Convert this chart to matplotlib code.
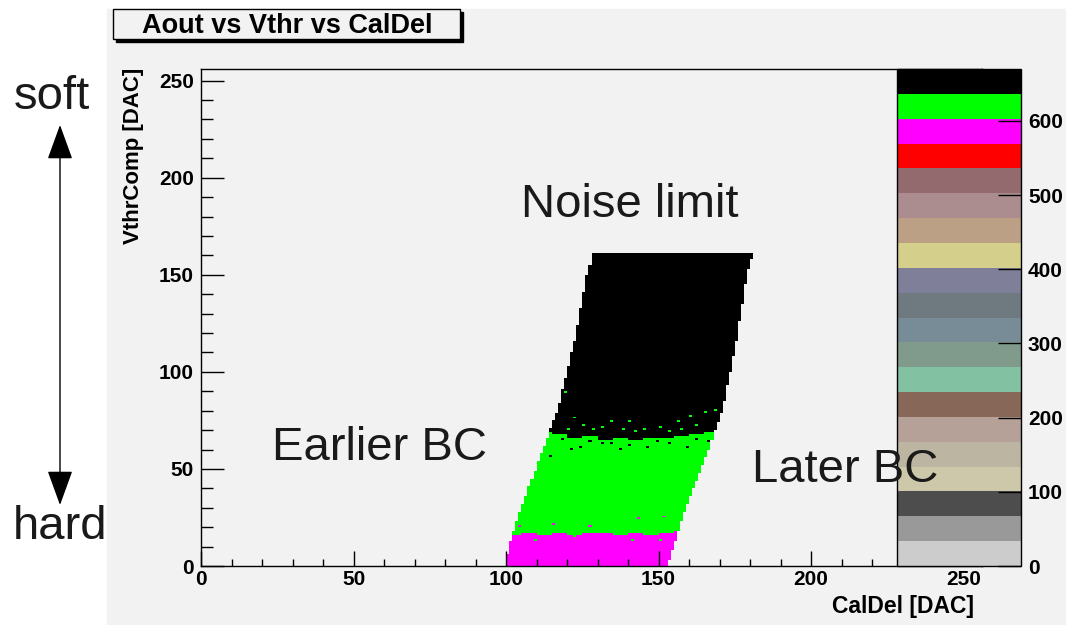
import numpy as np
import matplotlib.pyplot as plt
from matplotlib.colors import ListedColormap, BoundaryNorm
from matplotlib.patches import Rectangle, FancyArrowPatch
from matplotlib.path import Path
from matplotlib.ticker import MultipleLocator

plt.rcParams['font.family'] = ['Liberation Sans', 'DejaVu Sans']
plt.rcParams['font.weight'] = 'bold'

# ROOT palette, bottom to top (20 contour levels)
palette = ['#cccccc', '#999999', '#4d4d4d', '#cdc8aa', '#bcb5a2', '#b5a198',
           '#876757', '#83c1a3', '#809b8b', '#778c96', '#6f7a80', '#7f7f9a',
           '#d4cf8a', '#bca086', '#ab8c8f', '#936b6e', '#ff0000', '#ff00ff',
           '#00ff00', '#000000']
z_max = 670
palette_ticks = [0, 100, 200, 300, 400, 500, 600]

# outline of the filled region (CalDel edges at a few VthrComp levels)
vthr_levels = [0, 13, 30, 58, 81, 116, 150, 161]
left_edge = [99.5, 101.5, 105, 111.5, 117, 122.5, 126.5, 128.5]
right_edge = [153, 155.5, 159, 166, 171, 175.5, 179, 181]

# band borders per 5-DAC CalDel slice
band_cols = [95, 100, 105, 110, 115, 120, 125, 130, 135, 140, 145, 150, 155,
             160, 165, 170, 175, 180]
magenta_top = [16, 16, 17, 16, 17, 16, 17, 17, 16, 17, 16, 17, 18, 18, 18,
               18, 18, 18]
green_top = [68, 68, 68, 69, 68, 66, 67, 65, 66, 65, 66, 66, 67, 68, 69, 69,
             69, 69]

# level of each band
val_magenta = 585
val_green = 620
val_black = 655

# stray bins near the borders (CalDel, VthrComp)
green_specks = [(119, 89), (116, 79), (122, 76), (125, 72), (134, 74),
                (140, 74), (156, 74), (160, 77), (168, 80), (165, 79),
                (150, 71), (153, 69), (145, 70), (138, 70), (162, 72),
                (128, 70), (131, 71), (142, 69), (157, 70), (120, 70),
                (109, 13), (122, 15), (141, 13), (150, 13)]
black_specks = [(114, 56), (118, 65), (124, 61), (131, 63), (140, 62),
                (146, 61), (153, 63), (159, 61), (166, 64), (121, 60),
                (137, 60), (127, 64), (134, 63), (149, 64), (162, 65)]
magenta_specks = [(104, 20), (115, 21), (127, 20), (143, 24), (151, 25)]


def build_hist():
    nb = 256
    xc, yc = np.meshgrid(np.arange(nb) + 0.5, np.arange(nb) + 0.5)
    verts = list(zip(left_edge, vthr_levels)) + \
        list(zip(right_edge, vthr_levels))[::-1]
    inside = Path(verts).contains_points(
        np.column_stack([xc.ravel(), yc.ravel()])).reshape(nb, nb)
    idx = np.clip(np.searchsorted(band_cols, xc, side='right') - 1,
                  0, len(band_cols) - 1)
    mt = np.array(magenta_top)[idx]
    gt = np.array(green_top)[idx]
    z = np.where(yc < mt, val_magenta, np.where(yc < gt, val_green, val_black))
    z = z.astype(float)
    for pts, v in [(green_specks, val_green), (black_specks, val_black),
                   (magenta_specks, val_magenta)]:
        for cx, cy in pts:
            z[cy, cx] = v
    z[~inside] = np.nan
    return z


def main():
    W, H = 1066, 625
    fig = plt.figure(figsize=(W / 100, H / 100), dpi=100)
    fig.patch.set_facecolor('white')
    fig.patches.append(Rectangle((107 / W, 0), 1 - 107 / W, 616 / H,
                                 transform=fig.transFigure,
                                 color='#f2f2f2', zorder=-1))

    ax = fig.add_axes([201 / W, 59 / H, 781 / W, 497 / H])
    ax.set_facecolor('#f2f2f2')
    cmap = ListedColormap(palette)
    cmap.set_bad(alpha=0)
    norm = BoundaryNorm(np.linspace(0, z_max, len(palette) + 1), cmap.N)
    z = build_hist()
    edges = np.arange(257)
    mesh = ax.pcolormesh(edges, edges, np.ma.masked_invalid(z),
                         cmap=cmap, norm=norm)
    ax.set_xlim(0, 256)
    ax.set_ylim(0, 256)
    ax.xaxis.set_major_locator(MultipleLocator(50))
    ax.xaxis.set_minor_locator(MultipleLocator(10))
    ax.yaxis.set_major_locator(MultipleLocator(50))
    ax.yaxis.set_minor_locator(MultipleLocator(10))
    ax.tick_params(axis='x', which='major', direction='in', length=10.8,
                   width=1, labelsize=15, pad=3)
    ax.tick_params(axis='x', which='minor', direction='in', length=5.4,
                   width=1)
    ax.tick_params(axis='y', which='major', direction='in', length=16.6,
                   width=1, labelsize=15, pad=5)
    ax.tick_params(axis='y', which='minor', direction='in', length=8.3,
                   width=1)
    for s in ax.spines.values():
        s.set_linewidth(1)
    fig.text(974 / W, 1 - 606 / H, 'CalDel [DAC]', ha='right', va='center',
             fontsize=16.5)
    fig.text(134 / W, 1 - 68 / H, 'VthrComp [DAC]', ha='center', va='top',
             rotation=90, fontsize=16)

    # palette on the right, drawn over the frame
    cax = fig.add_axes([897 / W, 59 / H, 124 / W, 497 / H], zorder=5)
    cb = fig.colorbar(mesh, cax=cax, ticks=palette_ticks)
    cb.outline.set_linewidth(1)
    cax.yaxis.set_ticks_position('right')
    cax.tick_params(direction='in', length=16.6, width=1, labelsize=15,
                    pad=5)
    cax.minorticks_off()

    # title box with shadow
    fig.patches.append(Rectangle((116 / W, 1 - 42 / H), 347 / W, 30 / H,
                                 transform=fig.transFigure, color='black',
                                 zorder=3))
    fig.patches.append(Rectangle((113 / W, 1 - 39 / H), 347 / W, 30 / H,
                                 transform=fig.transFigure,
                                 facecolor='#f2f2f2', edgecolor='black',
                                 lw=1, zorder=4))
    fig.text(287 / W, 1 - 26 / H, 'Aout vs Vthr vs CalDel', ha='center',
             va='center', fontsize=19.5, zorder=6)

    # annotations
    note = dict(fontsize=34, fontweight='normal', color='#1a1a1a',
                ha='center', va='center', zorder=10)
    fig.text(630 / W, 1 - 205 / H, 'Noise limit', **note)
    fig.text(380 / W, 1 - 448 / H, 'Earlier BC', **note)
    fig.text(845 / W, 1 - 470 / H, 'Later BC', **note)
    fig.text(52 / W, 1 - 97 / H, 'soft', **note)
    fig.text(60 / W, 1 - 527 / H, 'hard', **note)
    arrow = FancyArrowPatch((60 / W, 1 - 505 / H), (60 / W, 1 - 125 / H),
                            transform=fig.transFigure,
                            arrowstyle='<|-|>,head_length=1.1,head_width=0.4',
                            mutation_scale=20, color='black', lw=1,
                            shrinkA=0, shrinkB=0)
    fig.patches.append(arrow)

    fig.savefig('out.png', dpi=100)


if __name__ == '__main__':
    main()
